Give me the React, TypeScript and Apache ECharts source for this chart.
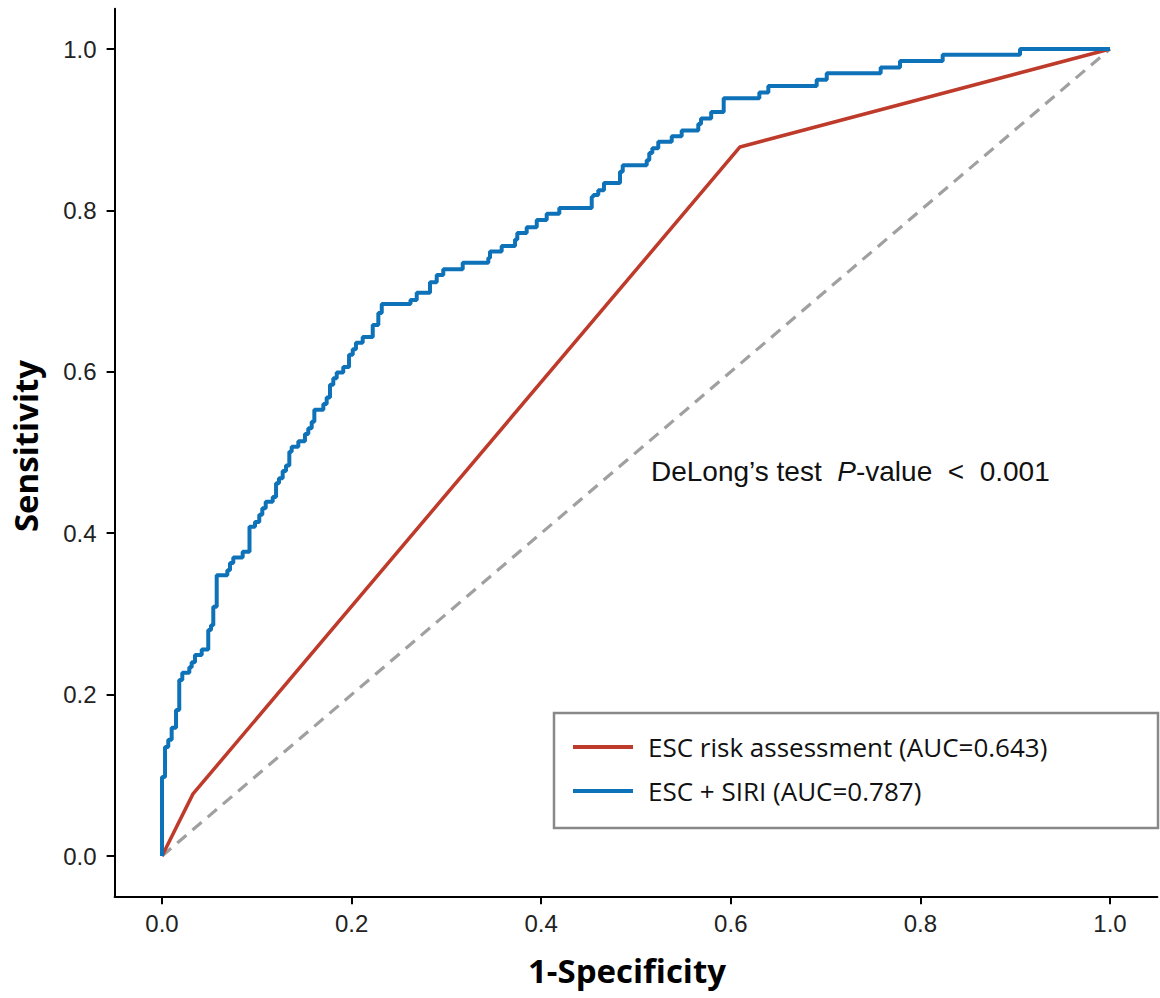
import React, { useEffect, useRef } from "react";
import * as echarts from "echarts";

const tickValues = [0, 0.2, 0.4, 0.6, 0.8, 1.0];

const escFpr = [0, 0.0327, 0.6097, 1];
const escTpr = [0, 0.077, 0.8786, 1];

const siriFpr = [
  0, 0, 0.0032, 0.0066, 0.0102, 0.0148, 0.0182, 0.0214, 0.0288, 0.0313,
  0.0348, 0.0419, 0.0488, 0.0517, 0.0541, 0.0577, 0.0689, 0.0717, 0.0752, 0.0851,
  0.0923, 0.0981, 0.1026, 0.1058, 0.1094, 0.1168, 0.1203, 0.1234, 0.1273, 0.1308,
  0.1343, 0.1368, 0.1438, 0.1508, 0.1543, 0.1579, 0.1607, 0.1702, 0.1737, 0.1772,
  0.1807, 0.1843, 0.1912, 0.1973, 0.2012, 0.2046, 0.2117, 0.2223, 0.2282, 0.2318,
  0.2621, 0.2687, 0.2827, 0.2898, 0.2967, 0.3172, 0.3442, 0.346, 0.3583, 0.3724,
  0.3748, 0.3847, 0.3953, 0.4058, 0.4191, 0.4533, 0.455, 0.4602, 0.4662, 0.4831,
  0.486, 0.5113, 0.514, 0.5172, 0.5235, 0.5377, 0.5482, 0.5657, 0.5686, 0.5793,
  0.5925, 0.6301, 0.6396, 0.6906, 0.7012, 0.7581, 0.7785, 0.8235, 0.9051, 1.0,
];
const siriTpr = [
  0, 0.098, 0.135, 0.144, 0.159, 0.181, 0.218, 0.227, 0.234, 0.24,
  0.249, 0.256, 0.28, 0.286, 0.309, 0.348, 0.354, 0.363, 0.37, 0.377,
  0.408, 0.414, 0.423, 0.431, 0.439, 0.445, 0.462, 0.468, 0.477, 0.484,
  0.501, 0.507, 0.514, 0.523, 0.53, 0.538, 0.553, 0.56, 0.568, 0.584,
  0.592, 0.599, 0.606, 0.621, 0.628, 0.636, 0.643, 0.658, 0.673, 0.684,
  0.689, 0.698, 0.711, 0.72, 0.727, 0.735, 0.741, 0.749, 0.756, 0.764,
  0.772, 0.779, 0.788, 0.796, 0.803, 0.817, 0.819, 0.825, 0.834, 0.848,
  0.856, 0.862, 0.871, 0.877, 0.885, 0.892, 0.899, 0.907, 0.914, 0.922,
  0.939, 0.946, 0.954, 0.962, 0.97, 0.977, 0.985, 0.993, 1.0, 1.0,
];

const refFpr = [0, 1];
const refTpr = [0, 1];

const legendNames = ["ESC risk assessment (AUC=0.643)", "ESC + SIRI (AUC=0.787)"];

const zip = (a: number[], b: number[]) => a.map((v, i) => [v, b[i]]);

export default function App() {
  const ref = useRef<HTMLDivElement>(null);
  useEffect(() => {
    if (!ref.current) return;
    const chart = echarts.init(ref.current, null, { renderer: "svg" });
    const axisCommon = {
      type: "value" as const,
      min: -0.05,
      max: 1.05,
      splitLine: { show: false },
      axisLine: { show: true, onZero: false, lineStyle: { color: "#000", width: 2 } },
      axisTick: {
        show: true,
        inside: false,
        length: 8,
        lineStyle: { color: "#000", width: 2 },
        customValues: tickValues,
      },
    };
    const labelFont = {
      fontSize: 24,
      color: "#222",
      fontFamily: "Liberation Sans, Arial, sans-serif",
      customValues: tickValues,
      formatter: (v: number) => v.toFixed(1),
    };
    chart.setOption({
      animation: false,
      backgroundColor: "#fff",
      grid: { left: 114.6, right: 2.6, top: 8.65, bottom: 101.65, containLabel: false },
      xAxis: { ...axisCommon, axisLabel: { ...labelFont, margin: 15 } },
      yAxis: { ...axisCommon, axisLabel: { ...labelFont, margin: 18 } },
      legend: {
        data: legendNames,
        orient: "vertical",
        left: 573,
        top: 732,
        icon: "rect",
        itemWidth: 60,
        itemHeight: 4,
        itemGap: 14,
        padding: 0,
        textStyle: {
          fontSize: 26,
          fontFamily: "Open Sans, Noto Sans, sans-serif",
          color: "#111",
          lineHeight: 30,
          padding: [0, 0, 0, 10],
        },
      },
      graphic: [
        {
          type: "rect",
          shape: { x: 554, y: 713, width: 604, height: 115 },
          style: { fill: "#fff", stroke: "#888", lineWidth: 2.5 },
          z: 1,
        },
        {
          type: "text",
          x: 25,
          y: 446,
          rotation: Math.PI / 2,
          style: {
            text: "Sensitivity",
            fontSize: 33,
            fontWeight: "bold",
            fontFamily: "Open Sans, Noto Sans, sans-serif",
            fill: "#000",
            align: "center",
            verticalAlign: "middle",
          },
        },
        {
          type: "text",
          x: 627,
          y: 970,
          style: {
            text: "1-Specificity",
            fontSize: 33,
            fontWeight: "bold",
            fontFamily: "Open Sans, Noto Sans, sans-serif",
            fill: "#000",
            align: "center",
            verticalAlign: "middle",
          },
        },
        {
          type: "text",
          x: 651,
          y: 471,
          style: {
            text: "DeLong\u2019s test  {i|P}-value  <  0.001",
            fontSize: 28,
            fontFamily: "Liberation Sans, Arial, sans-serif",
            fill: "#111",
            align: "left",
            verticalAlign: "middle",
            rich: {
              i: {
                fontStyle: "italic",
                fontSize: 28,
                fontFamily: "Liberation Sans, Arial, sans-serif",
                fill: "#111",
              },
            },
          },
        },
      ],
      series: [
        {
          name: "reference",
          type: "line",
          data: zip(refFpr, refTpr),
          symbol: "none",
          lineStyle: { color: "#A0A0A0", width: 3.2, type: [12, 8] },
          itemStyle: { color: "#A0A0A0" },
          z: 2,
        },
        {
          name: legendNames[0],
          type: "line",
          data: zip(escFpr, escTpr),
          symbol: "none",
          color: "#BE3A2A",
          lineStyle: { color: "#BE3A2A", width: 3.5 },
          itemStyle: { color: "#BE3A2A" },
          z: 3,
        },
        {
          name: legendNames[1],
          type: "line",
          data: zip(siriFpr, siriTpr),
          step: "end",
          symbol: "none",
          color: "#0E72B8",
          lineStyle: { color: "#0E72B8", width: 4 },
          itemStyle: { color: "#0E72B8" },
          z: 4,
        },
      ],
    });
    return () => chart.dispose();
  }, []);
  return (
    <div
      ref={ref}
      style={{ position: "fixed", left: 0, top: 0, width: 1160, height: 998 }}
    />
  );
}
